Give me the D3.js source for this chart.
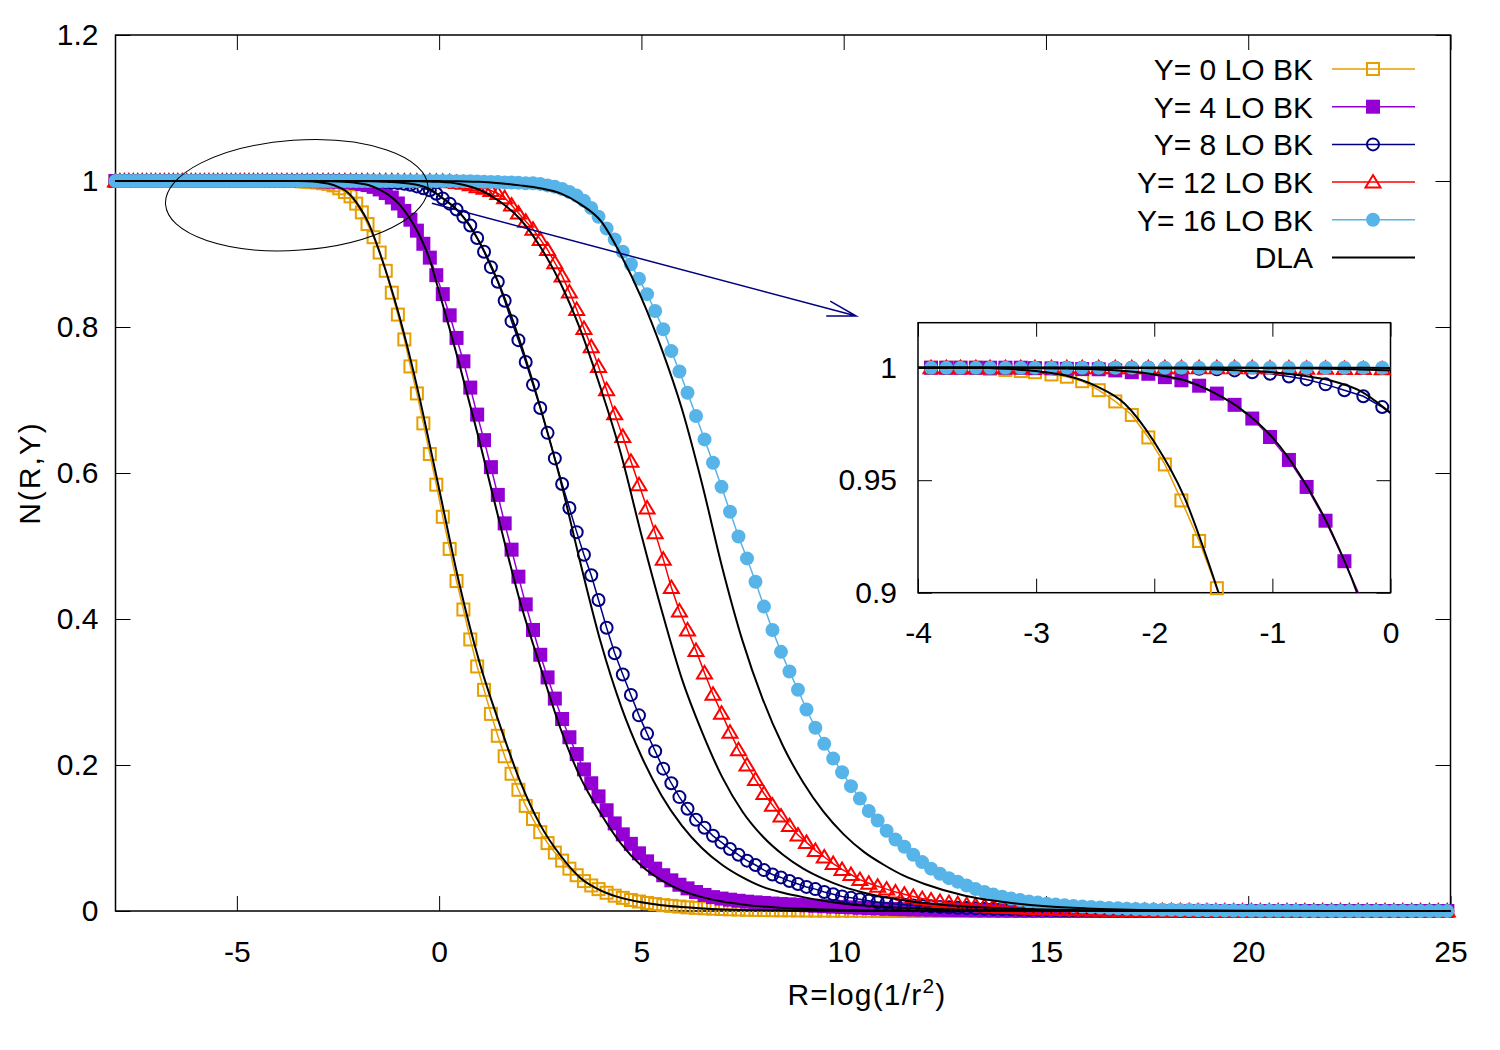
<!DOCTYPE html>
<html>
<head>
<meta charset="utf-8">
<script src="https://cdn.jsdelivr.net/npm/d3@7"></script>
<style>
  body { margin: 0; background: #fff; }
  svg text { font-family: "Liberation Sans", Arial, Helvetica, sans-serif; fill: #000; }
</style>
</head>
<body>
<div id="chart"></div>
<script>
// R = log(1/r^2) grid of the BK solution (rows of 10)
const R_GRID = [
  -8.00,-7.89,-7.78,-7.67,-7.56,-7.45,-7.34,-7.23,-7.12,-7.01,
  -6.90,-6.79,-6.68,-6.57,-6.46,-6.35,-6.24,-6.13,-6.02,-5.91,
  -5.80,-5.69,-5.58,-5.47,-5.36,-5.25,-5.14,-5.03,-4.92,-4.81,
  -4.70,-4.59,-4.48,-4.37,-4.25,-4.13,-4.01,-3.89,-3.76,-3.64,
  -3.51,-3.39,-3.26,-3.13,-3.01,-2.87,-2.74,-2.61,-2.47,-2.33,
  -2.19,-2.05,-1.91,-1.77,-1.62,-1.47,-1.32,-1.17,-1.02,-0.86,
  -0.71,-0.55,-0.39,-0.23,-0.07,0.09,0.26,0.43,0.60,0.77,
  0.94,1.11,1.28,1.45,1.62,1.79,1.96,2.14,2.32,2.50,
  2.68,2.86,3.04,3.22,3.40,3.58,3.76,3.94,4.14,4.34,
  4.54,4.74,4.94,5.14,5.34,5.54,5.74,5.94,6.14,6.35,
  6.56,6.77,6.98,7.19,7.40,7.61,7.82,8.03,8.24,8.45,
  8.66,8.87,9.08,9.30,9.52,9.74,9.96,10.18,10.40,10.62,
  10.84,11.06,11.28,11.50,11.72,11.94,12.16,12.38,12.60,12.82,
  13.04,13.26,13.48,13.70,13.92,14.14,14.36,14.58,14.80,15.02,
  15.24,15.46,15.68,15.90,16.12,16.34,16.56,16.78,17.00,17.22,
  17.44,17.66,17.88,18.10,18.32,18.54,18.76,18.98,19.20,19.42,
  19.64,19.86,20.08,20.30,20.52,20.74,20.96,21.18,21.40,21.62,
  21.84,22.06,22.28,22.50,22.72,22.94,23.16,23.38,23.60,23.82,
  24.04,24.26,24.48,24.70,24.92
];

// LO BK, Y = 0
const N_Y0 = [
  1,1,1,1,1,1,1,1,1,1,
  1,1,1,1,1,1,1,1,1,1,
  1,1,1,1,1,1,1,1,1,1,
  1,1,1,1,1,1,1,1,1,1,
  1,0.9995,0.999,0.9985,0.998,0.997,0.996,0.994,0.990,0.985,
  0.979,0.969,0.957,0.941,0.923,0.902,0.877,0.847,0.817,0.783,
  0.746,0.709,0.668,0.626,0.584,0.540,0.496,0.452,0.413,0.372,
  0.335,0.303,0.270,0.240,0.212,0.188,0.166,0.144,0.126,0.108,
  0.093,0.080,0.069,0.058,0.049,0.041,0.035,0.030,0.025,0.021,
  0.018,0.015,0.013,0.011,0.0095,0.008,0.007,0.006,0.005,0.0043,
  0.0037,0.0032,0.0027,0.0023,0.002,0.0017,0.0015,0.0013,0.0011,0.001,
  0.0009,0.0008,0.0007,0.0006,0.0005,0.0004,0.0004,0.0003,0.0003,0.0002,
  0,0,0,0,0,0,0,0,0,0,
  0,0,0,0,0,0,0,0,0,0,
  0,0,0,0,0,0,0,0,0,0,
  0,0,0,0,0,0,0,0,0,0,
  0,0,0,0,0,0,0,0,0,0,
  0,0,0,0,0,0,0,0,0,0,
  0,0,0,0,0
];

// LO BK, Y = 4
const N_Y4 = [
  1,1,1,1,1,1,1,1,1,1,
  1,1,1,1,1,1,1,1,1,1,
  1,1,1,1,1,1,1,1,1,1,
  1,1,1,1,1,1,1,1,1,1,
  1,1,1,1,0.9998,0.9997,0.9995,0.9994,0.9993,0.9988,
  0.998,0.9973,0.9958,0.9944,0.992,0.9885,0.9835,0.9774,0.9692,0.959,
  0.947,0.932,0.914,0.895,0.871,0.845,0.816,0.785,0.753,0.717,
  0.680,0.645,0.608,0.570,0.531,0.495,0.458,0.420,0.385,0.351,
  0.320,0.291,0.263,0.238,0.215,0.194,0.175,0.157,0.138,0.120,
  0.105,0.092,0.079,0.068,0.058,0.049,0.042,0.036,0.031,0.026,
  0.022,0.019,0.017,0.0155,0.014,0.0128,0.0118,0.011,0.0102,0.0095,
  0.009,0.0085,0.0078,0.0072,0.0066,0.006,0.0055,0.005,0.0045,0.004,
  0.0035,0.003,0.0027,0.0024,0.0022,0.002,0.0018,0.0016,0.0014,0.0013,
  0.0012,0.001,0.0009,0.0008,0.0007,0.0006,0.0005,0.0005,0.0004,0.0004,
  0.0003,0.0003,0.0002,0.0002,0.0002,0.0001,0.0001,0.0001,0,0,
  0,0,0,0,0,0,0,0,0,0,
  0,0,0,0,0,0,0,0,0,0,
  0,0,0,0,0,0,0,0,0,0,
  0,0,0,0,0
];

// LO BK, Y = 8
const N_Y8 = [
  1,1,1,1,1,1,1,1,1,1,
  1,1,1,1,1,1,1,1,1,1,
  1,1,1,1,1,1,1,1,1,1,
  1,1,1,1,1,1,1,1,1,1,
  1,1,1,1,1,1,1,1,1,1,
  1,1,0.9998,0.9997,0.9995,0.9993,0.9988,0.998,0.9973,0.9961,
  0.9948,0.9926,0.990,0.9873,0.9825,0.976,0.969,0.961,0.951,0.939,
  0.922,0.903,0.882,0.862,0.836,0.808,0.782,0.752,0.721,0.689,
  0.655,0.620,0.585,0.552,0.519,0.488,0.460,0.426,0.388,0.353,
  0.324,0.296,0.268,0.243,0.219,0.195,0.175,0.156,0.140,0.125,
  0.114,0.103,0.094,0.085,0.077,0.069,0.063,0.056,0.050,0.046,
  0.041,0.037,0.033,0.030,0.026,0.023,0.020,0.018,0.016,0.014,
  0.012,0.011,0.0095,0.0085,0.0077,0.007,0.0063,0.0056,0.005,0.0045,
  0.004,0.0036,0.0032,0.0029,0.0026,0.0023,0.002,0.0018,0.0016,0.0015,
  0.0013,0.0011,0.001,0.0009,0.0008,0.0007,0.0006,0.0005,0.0004,0.0004,
  0.0003,0.0003,0.0002,0.0002,0.0001,0.0001,0,0,0,0,
  0,0,0,0,0,0,0,0,0,0,
  0,0,0,0,0,0,0,0,0,0,
  0,0,0,0,0
];

// LO BK, Y = 12
const N_Y12 = [
  1,1,1,1,1,1,1,1,1,1,
  1,1,1,1,1,1,1,1,1,1,
  1,1,1,1,1,1,1,1,1,1,
  1,1,1,1,1,1,1,1,1,1,
  1,1,1,1,1,1,1,1,1,1,
  1,1,1,1,1,1,1,1,0.9999,0.9999,
  0.9998,0.9998,0.9997,0.9996,0.9995,0.9993,0.999,0.998,0.997,0.995,
  0.992,0.990,0.987,0.983,0.977,0.967,0.956,0.945,0.934,0.920,
  0.906,0.888,0.870,0.848,0.824,0.798,0.773,0.746,0.714,0.681,
  0.650,0.616,0.584,0.552,0.518,0.482,0.443,0.411,0.385,0.357,
  0.326,0.297,0.271,0.245,0.221,0.200,0.180,0.161,0.145,0.130,
  0.117,0.104,0.094,0.083,0.074,0.065,0.057,0.050,0.043,0.038,
  0.034,0.030,0.026,0.023,0.020,0.017,0.015,0.013,0.0115,0.010,
  0.0088,0.0078,0.0068,0.006,0.0053,0.0047,0.0041,0.0036,0.0032,0.0028,
  0.0024,0.0021,0.0018,0.0016,0.0014,0.0012,0.001,0.0009,0.0008,0.0007,
  0.0006,0.0005,0.0004,0.0004,0.0003,0.0003,0.0002,0.0002,0.0002,0.0001,
  0,0,0,0,0,0,0,0,0,0,
  0,0,0,0,0,0,0,0,0,0,
  0,0,0,0,0
];

// LO BK, Y = 16
const N_Y16 = [
  1,1,1,1,1,1,1,1,1,1,
  1,1,1,1,1,1,1,1,1,1,
  1,1,1,1,1,1,1,1,1,1,
  1,1,1,1,1,1,1,1,1,1,
  1,1,1,1,1,1,1,1,1,1,
  1,1,1,1,1,1,1,1,1,1,
  1,1,1,1,1,1,1,0.9998,0.9997,0.9995,
  0.9993,0.999,0.9988,0.9985,0.998,0.998,0.9975,0.997,0.997,0.996,
  0.994,0.992,0.989,0.985,0.980,0.973,0.963,0.951,0.935,0.920,
  0.903,0.886,0.866,0.845,0.822,0.797,0.767,0.739,0.710,0.678,
  0.646,0.614,0.581,0.547,0.513,0.483,0.451,0.417,0.385,0.355,
  0.328,0.303,0.276,0.251,0.229,0.209,0.190,0.171,0.154,0.137,
  0.124,0.110,0.098,0.088,0.077,0.067,0.058,0.051,0.045,0.040,
  0.035,0.030,0.026,0.0225,0.0195,0.017,0.015,0.013,0.0115,0.010,
  0.0088,0.0078,0.007,0.0062,0.0055,0.0048,0.0042,0.0037,0.0032,0.0028,
  0.0024,0.0021,0.0018,0.0016,0.0014,0.0012,0.001,0.0009,0.0008,0.0007,
  0.0006,0.0005,0.0004,0.0004,0.0003,0.0003,0.0002,0.0002,0.0001,0.0001,
  0,0,0,0,0,0,0,0,0,0,
  0,0,0,0,0
];

// DLA curves (black lines)
const DLA_R = [
  -8,-6,-4.5,-4,-3.75,-3.5,-3.25,-3,-2.75,-2.5,
  -2.25,-2,-1.75,-1.5,-1.25,-1,-0.75,-0.5,-0.25,0,
  0.5,1,1.5,2,2.5,3,3.5,4,4.5,5,
  5.5,6,6.5,7,7.5,8,8.5,9,9.5,10,
  10.5,11,11.5,12,13,14,15,16,18,20,
  22,25
];
const DLA_Y0 = [
  1,1,1,1,1,1,0.9995,0.9985,0.9965,0.992,
  0.984,0.967,0.943,0.907,0.865,0.818,0.765,0.707,0.643,0.578,
  0.448,0.340,0.255,0.178,0.118,0.076,0.045,0.028,0.018,0.012,
  0.008,0.0055,0.0035,0.0022,0.0014,0.0009,0.0006,0.0004,0.0003,0.0002,
  0.0001,0,0,0,0,0,0,0,0,0,
  0,0
];
const DLA_Y4 = [
  1,1,1,1,1,1,1,0.9998,0.9996,0.9993,
  0.9985,0.997,0.9945,0.989,0.981,0.969,0.951,0.927,0.895,0.848,
  0.749,0.643,0.531,0.424,0.335,0.250,0.182,0.133,0.092,0.062,
  0.042,0.028,0.019,0.013,0.009,0.006,0.0042,0.003,0.0021,0.0015,
  0.001,0.0007,0.0005,0.0003,0.0001,0,0,0,0,0,
  0,0
];
const DLA_Y8 = [
  1,1,1,1,1,1,1,1,1,1,
  1,0.9998,0.9996,0.9993,0.9987,0.998,0.9965,0.9942,0.9895,0.980,
  0.957,0.916,0.856,0.780,0.690,0.590,0.475,0.367,0.280,0.212,
  0.158,0.117,0.086,0.063,0.046,0.033,0.025,0.019,0.014,0.010,
  0.0075,0.0055,0.004,0.003,0.0016,0.0008,0.0004,0.0002,0,0,
  0,0
];
const DLA_Y12 = [
  1,1,1,1,1,1,1,1,1,1,
  1,1,1,1,1,0.9998,0.9997,0.9995,0.9992,0.9988,
  0.996,0.988,0.972,0.948,0.910,0.860,0.795,0.715,0.625,0.515,
  0.412,0.318,0.245,0.183,0.136,0.102,0.077,0.058,0.044,0.033,
  0.025,0.019,0.0145,0.011,0.006,0.0035,0.002,0.001,0.0003,0.0001,
  0,0
];
const DLA_Y16 = [
  1,1,1,1,1,1,1,1,1,1,
  1,1,1,1,1,1,1,1,1,0.9999,
  0.9995,0.999,0.997,0.994,0.990,0.983,0.968,0.945,0.898,0.840,
  0.770,0.688,0.585,0.470,0.370,0.290,0.226,0.176,0.136,0.105,
  0.081,0.063,0.048,0.037,0.021,0.012,0.0065,0.0035,0.001,0.0003,
  0.0001,0
];

const X_TICKS = [-5, 0, 5, 10, 15, 20, 25];
const Y_TICKS = [0, 0.2, 0.4, 0.6, 0.8, 1, 1.2];
const INSET_X_TICKS = [-4, -3, -2, -1, 0];
const INSET_Y_TICKS = [0.9, 0.95, 1];
const LEGEND_LABELS = ["Y= 0 LO BK", "Y= 4 LO BK", "Y= 8 LO BK", "Y= 12 LO BK", "Y= 16 LO BK", "DLA"];

const series = [
  {name: LEGEND_LABELS[0], color: "#e69f00", marker: "openSquare",   values: N_Y0},
  {name: LEGEND_LABELS[1], color: "#9400d3", marker: "filledSquare", values: N_Y4},
  {name: LEGEND_LABELS[2], color: "#000080", marker: "openCircle",   values: N_Y8},
  {name: LEGEND_LABELS[3], color: "#ff0000", marker: "openTriangle", values: N_Y12},
  {name: LEGEND_LABELS[4], color: "#56b4e9", marker: "filledCircle", values: N_Y16}
];
const dlaCurves = [DLA_Y0, DLA_Y4, DLA_Y8, DLA_Y12, DLA_Y16];

// ---- layout ----
const W = 1500, H = 1050;
const FONT = 30;
const main = {left: 115.5, right: 1450.5, top: 35, bottom: 911};
const inset = {left: 918, right: 1390.5, top: 322.7, bottom: 592.7};

const svg = d3.select("#chart").append("svg")
  .attr("width", W).attr("height", H)
  .style("background", "#fff");

const x = d3.scaleLinear().domain([-8, 25]).range([main.left, main.right]);
const y = d3.scaleLinear().domain([0, 1.2]).range([main.bottom, main.top]);
const xi = d3.scaleLinear().domain([-4, 0]).range([inset.left, inset.right]);
const yi = d3.scaleLinear().domain([0.9, 1.02]).range([inset.bottom, inset.top]);

function drawMarkers(g, pts, s, xs, ys) {
  const sel = g.selectAll(null).data(pts).enter();
  if (s.marker === "openSquare") {
    sel.append("rect")
      .attr("x", d => xs(d.r) - 6).attr("y", d => ys(d.n) - 6)
      .attr("width", 12).attr("height", 12)
      .attr("fill", "none").attr("stroke", s.color).attr("stroke-width", 2);
  } else if (s.marker === "filledSquare") {
    sel.append("rect")
      .attr("x", d => xs(d.r) - 7).attr("y", d => ys(d.n) - 7)
      .attr("width", 14).attr("height", 14)
      .attr("fill", s.color);
  } else if (s.marker === "openCircle") {
    sel.append("circle")
      .attr("cx", d => xs(d.r)).attr("cy", d => ys(d.n)).attr("r", 6)
      .attr("fill", "none").attr("stroke", s.color).attr("stroke-width", 2);
  } else if (s.marker === "openTriangle") {
    sel.append("path")
      .attr("d", d => {
        const cx = xs(d.r), cy = ys(d.n);
        return `M${cx},${cy - 7}L${cx + 7.5},${cy + 5.5}L${cx - 7.5},${cy + 5.5}Z`;
      })
      .attr("fill", "none").attr("stroke", s.color).attr("stroke-width", 2)
      .attr("stroke-linejoin", "miter");
  } else {
    sel.append("circle")
      .attr("cx", d => xs(d.r)).attr("cy", d => ys(d.n)).attr("r", 7)
      .attr("fill", s.color);
  }
}

function drawAxes(g, box, xs, ys, xt, yt, tick, yPad) {
  // ticks on all four sides (gnuplot mirror style), labels bottom/left
  g.append("g")
    .attr("transform", `translate(0,${box.bottom})`)
    .call(d3.axisBottom(xs).tickValues(xt).tickSize(-tick).tickPadding(29.4).tickFormat(d => String(d)))
    .call(a => a.select(".domain").remove());
  g.append("g")
    .attr("transform", `translate(0,${box.top})`)
    .call(d3.axisTop(xs).tickValues(xt).tickSize(-tick).tickFormat(""))
    .call(a => a.select(".domain").remove());
  g.append("g")
    .attr("transform", `translate(${box.left},0)`)
    .call(d3.axisLeft(ys).tickValues(yt).tickSize(-tick).tickPadding(yPad).tickFormat(d => String(d)))
    .call(a => a.select(".domain").remove());
  g.append("g")
    .attr("transform", `translate(${box.right},0)`)
    .call(d3.axisRight(ys).tickValues(yt).tickSize(-tick).tickFormat(""))
    .call(a => a.select(".domain").remove());
  g.selectAll(".tick line").attr("stroke", "#000").attr("stroke-width", 1);
  g.selectAll(".tick text").attr("font-size", FONT)
    .attr("font-family", '"Liberation Sans", Arial, sans-serif').attr("fill", "#000");
  g.append("rect")
    .attr("x", box.left).attr("y", box.top)
    .attr("width", box.right - box.left).attr("height", box.bottom - box.top)
    .attr("fill", "none").attr("stroke", "#000").attr("stroke-width", 1.5);
}

// ---- main panel ----
const gMain = svg.append("g");
drawAxes(gMain, main, x, y, X_TICKS, Y_TICKS, 15, 17);

const lineMain = d3.line().x(d => x(d.r)).y(d => y(d.n));
series.forEach(s => {
  const pts = R_GRID.map((r, i) => ({r: r, n: s.values[i]}));
  gMain.append("path").datum(pts)
    .attr("d", lineMain).attr("fill", "none")
    .attr("stroke", s.color).attr("stroke-width", 1.5);
  drawMarkers(gMain.append("g"), pts, s, x, y);
});

const dlaMain = d3.line().curve(d3.curveMonotoneX).x(d => x(d.r)).y(d => y(d.n));
dlaCurves.forEach(vals => {
  const pts = DLA_R.map((r, i) => ({r: r, n: vals[i]}));
  gMain.append("path").datum(pts)
    .attr("d", dlaMain).attr("fill", "none")
    .attr("stroke", "#000").attr("stroke-width", 2);
});

// zoom marker: ellipse around the shoulder and an arrow to the inset
const ELL = {r: -3.52, n: 0.9805, rx: 131.5, ry: 55, angle: -4};
gMain.append("ellipse")
  .attr("cx", 0).attr("cy", 0).attr("rx", ELL.rx).attr("ry", ELL.ry)
  .attr("transform", `translate(${x(ELL.r)},${y(ELL.n)}) rotate(${ELL.angle})`)
  .attr("fill", "none").attr("stroke", "#000").attr("stroke-width", 1);

const ARROW = {from: [-0.18, 0.9695], to: [10.31, 0.815]};
{
  const x0 = x(ARROW.from[0]), y0 = y(ARROW.from[1]);
  const x1 = x(ARROW.to[0]), y1 = y(ARROW.to[1]);
  const ang = Math.atan2(y1 - y0, x1 - x0);
  const hl = 30, ha = 15 * Math.PI / 180;
  const b1 = [x1 - hl * Math.cos(ang - ha), y1 - hl * Math.sin(ang - ha)];
  const b2 = [x1 - hl * Math.cos(ang + ha), y1 - hl * Math.sin(ang + ha)];
  gMain.append("path")
    .attr("d", `M${x0},${y0}L${x1},${y1}M${b1[0]},${b1[1]}L${x1},${y1}L${b2[0]},${b2[1]}`)
    .attr("fill", "none").attr("stroke", "#000080").attr("stroke-width", 1.5);
}

// axis titles
gMain.append("text")
  .attr("x", 867).attr("y", 1005).attr("text-anchor", "middle").attr("font-size", FONT)
  .attr("letter-spacing", 1.2)
  .call(t => {
    t.append("tspan").text("R=log(1/r");
    t.append("tspan").attr("dy", -12).attr("font-size", 21).text("2");
    t.append("tspan").attr("dy", 12).text(")");
  });
gMain.append("text")
  .attr("transform", `translate(40,${(main.top + main.bottom) / 2}) rotate(-90)`)
  .attr("text-anchor", "middle").attr("font-size", FONT)
  .attr("letter-spacing", 2)
  .text("N(R,Y)");

// legend
const legend = gMain.append("g");
LEGEND_LABELS.forEach((lab, i) => {
  const ly = 69 + i * 37.7;
  legend.append("text")
    .attr("x", 1313).attr("y", ly).attr("dy", "0.36em")
    .attr("text-anchor", "end").attr("font-size", FONT).text(lab);
  const s = series[i];
  legend.append("line")
    .attr("x1", 1332).attr("x2", 1415).attr("y1", ly).attr("y2", ly)
    .attr("stroke", s ? s.color : "#000").attr("stroke-width", s ? 1.5 : 2);
  if (s) {
    const lx = d3.scaleLinear().domain([0, 1]).range([1373, 1374]);
    const ly2 = d3.scaleLinear().domain([0, 1]).range([ly, ly + 1]);
    drawMarkers(legend.append("g"), [{r: 0, n: 0}], s, lx, ly2);
  }
});

// ---- inset ----
const gIn = svg.append("g");
drawAxes(gIn, inset, xi, yi, INSET_X_TICKS, INSET_Y_TICKS, 14, 21);
svg.append("clipPath").attr("id", "insetClip")
  .append("rect")
  .attr("x", inset.left).attr("y", inset.top)
  .attr("width", inset.right - inset.left).attr("height", inset.bottom - inset.top);

const lineIn = d3.line().x(d => xi(d.r)).y(d => yi(d.n));
series.forEach(s => {
  const pts = R_GRID.map((r, i) => ({r: r, n: s.values[i]}));
  gIn.append("path").datum(pts)
    .attr("clip-path", "url(#insetClip)")
    .attr("d", lineIn).attr("fill", "none")
    .attr("stroke", s.color).attr("stroke-width", 1.5);
  const inside = pts.filter(d => d.r >= -4 && d.r <= 0 && d.n >= 0.9 && d.n <= 1.02);
  drawMarkers(gIn.append("g"), inside, s, xi, yi);
});
const dlaIn = d3.line().curve(d3.curveMonotoneX).x(d => xi(d.r)).y(d => yi(d.n));
dlaCurves.forEach(vals => {
  const pts = DLA_R.map((r, i) => ({r: r, n: vals[i]}));
  gIn.append("path").datum(pts)
    .attr("clip-path", "url(#insetClip)")
    .attr("d", dlaIn).attr("fill", "none")
    .attr("stroke", "#000").attr("stroke-width", 2);
});
</script>
</body>
</html>
